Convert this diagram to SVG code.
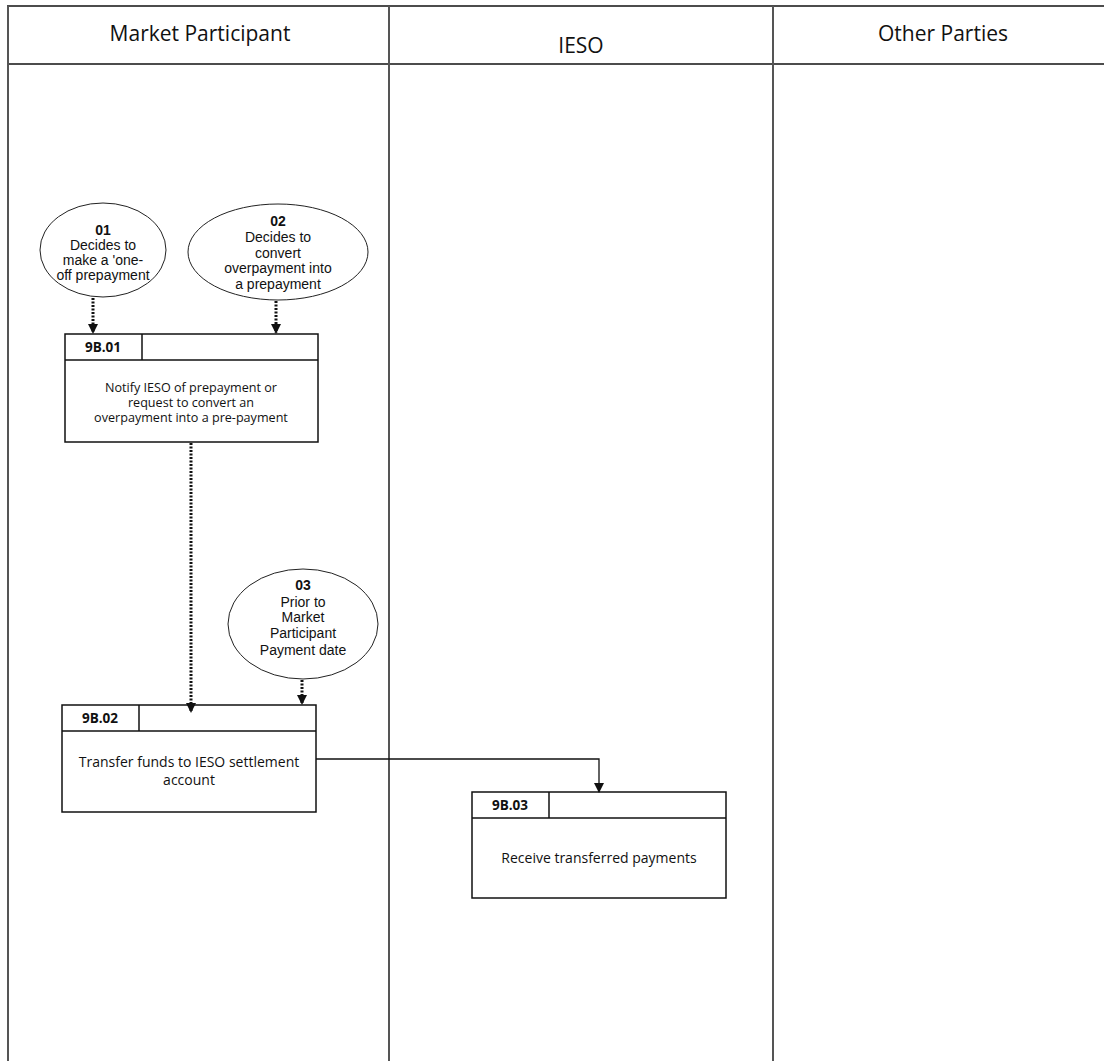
<svg xmlns="http://www.w3.org/2000/svg" width="1104" height="1061" viewBox="0 0 1104 1061">
<style>
.lane{stroke:#555;stroke-width:2;fill:none}
.hline{stroke:#111;stroke-width:1.6;fill:none}
.hdr{font-family:"Open Sans","Liberation Sans",sans-serif;font-size:21px;fill:#111;text-anchor:middle}
.ell{fill:#fff;stroke:#222;stroke-width:1}
.et{font-family:"Liberation Sans",Arial,sans-serif;font-size:14px;fill:#111;text-anchor:middle}
.eb{font-weight:bold}
.box{fill:#fff;stroke:#111;stroke-width:1.5}
.bid{font-family:"Open Sans","Liberation Sans",sans-serif;font-size:13.5px;font-weight:bold;fill:#111;text-anchor:middle}
.bt{font-family:"Open Sans","Liberation Sans",sans-serif;font-size:12.6px;fill:#111;text-anchor:middle}
.bt2{font-family:"Open Sans","Liberation Sans",sans-serif;font-size:14px;fill:#111;text-anchor:middle}
.dot{stroke:#111;stroke-width:3;stroke-dasharray:2,1.5;fill:none}
.sol{stroke:#111;stroke-width:1.3;fill:none}
</style>
<defs>
<marker id="ah" viewBox="0 0 10 10" refX="9" refY="5" markerWidth="10" markerHeight="10" markerUnits="userSpaceOnUse" orient="auto">
<path d="M0,0 L10,5 L0,10 z" fill="#111"/>
</marker>
</defs>
<rect width="1104" height="1061" fill="#fff"/>
<g id="lanes">
<line class="hline" x1="7" y1="6" x2="1104" y2="6"/>
<line class="hline" x1="7" y1="64" x2="1104" y2="64"/>
<line class="lane" x1="8" y1="6" x2="8" y2="1061"/>
<line class="lane" x1="389" y1="6" x2="389" y2="1061"/>
<line class="lane" x1="773" y1="6" x2="773" y2="1061"/>
<text class="hdr" x="200" y="41">Market Participant</text>
<text class="hdr" x="581" y="53">IESO</text>
<text class="hdr" x="943" y="41">Other Parties</text>
</g>
<g id="e01">
<ellipse class="ell" cx="103" cy="250" rx="63" ry="47"/>
<text class="et eb" x="103" y="235">01</text>
<text class="et" x="103" y="250">Decides to</text>
<text class="et" x="103" y="265">make a 'one-</text>
<text class="et" x="103" y="280">off prepayment</text>
</g>
<g id="e02">
<ellipse class="ell" cx="278" cy="252" rx="90" ry="48"/>
<text class="et eb" x="278" y="226">02</text>
<text class="et" x="278" y="242">Decides to</text>
<text class="et" x="278" y="258">convert</text>
<text class="et" x="278" y="273">overpayment into</text>
<text class="et" x="278" y="289">a prepayment</text>
</g>
<g id="e03">
<ellipse class="ell" cx="303" cy="624" rx="75" ry="55"/>
<text class="et eb" x="303" y="590">03</text>
<text class="et" x="303" y="607">Prior to</text>
<text class="et" x="303" y="622">Market</text>
<text class="et" x="303" y="638">Participant</text>
<text class="et" x="303" y="655">Payment date</text>
</g>
<g id="b9B01">
<rect class="box" x="65" y="334" width="253" height="108"/>
<line class="box" x1="65" y1="360" x2="318" y2="360"/>
<line class="box" x1="142" y1="334" x2="142" y2="360"/>
<text class="bid" x="103" y="352">9B.01</text>
<text class="bt" x="191" y="392">Notify IESO of prepayment or</text>
<text class="bt" x="191" y="407">request to convert an</text>
<text class="bt" x="191" y="422">overpayment into a pre-payment</text>
</g>
<g id="b9B02">
<rect class="box" x="62" y="705" width="254" height="107"/>
<line class="box" x1="62" y1="731" x2="316" y2="731"/>
<line class="box" x1="139" y1="705" x2="139" y2="731"/>
<text class="bid" x="100" y="723">9B.02</text>
<text class="bt2" x="189" y="767">Transfer funds to IESO settlement</text>
<text class="bt2" x="189" y="785">account</text>
</g>
<g id="b9B03">
<rect class="box" x="472" y="792" width="254" height="106"/>
<line class="box" x1="472" y1="818" x2="726" y2="818"/>
<line class="box" x1="549" y1="792" x2="549" y2="818"/>
<text class="bid" x="510" y="810">9B.03</text>
<text class="bt2" x="599" y="863">Receive transferred payments</text>
</g>
<g id="connectors">
<line class="dot" x1="93" y1="298" x2="93" y2="333" marker-end="url(#ah)"/>
<line class="dot" x1="276" y1="301" x2="276" y2="333" marker-end="url(#ah)"/>
<line class="dot" x1="191" y1="443" x2="191" y2="712" marker-end="url(#ah)"/>
<line class="dot" x1="302" y1="680" x2="302" y2="704" marker-end="url(#ah)"/>
<path class="sol" d="M316,759 H599 V792" marker-end="url(#ah)"/>
</g>
</svg>
